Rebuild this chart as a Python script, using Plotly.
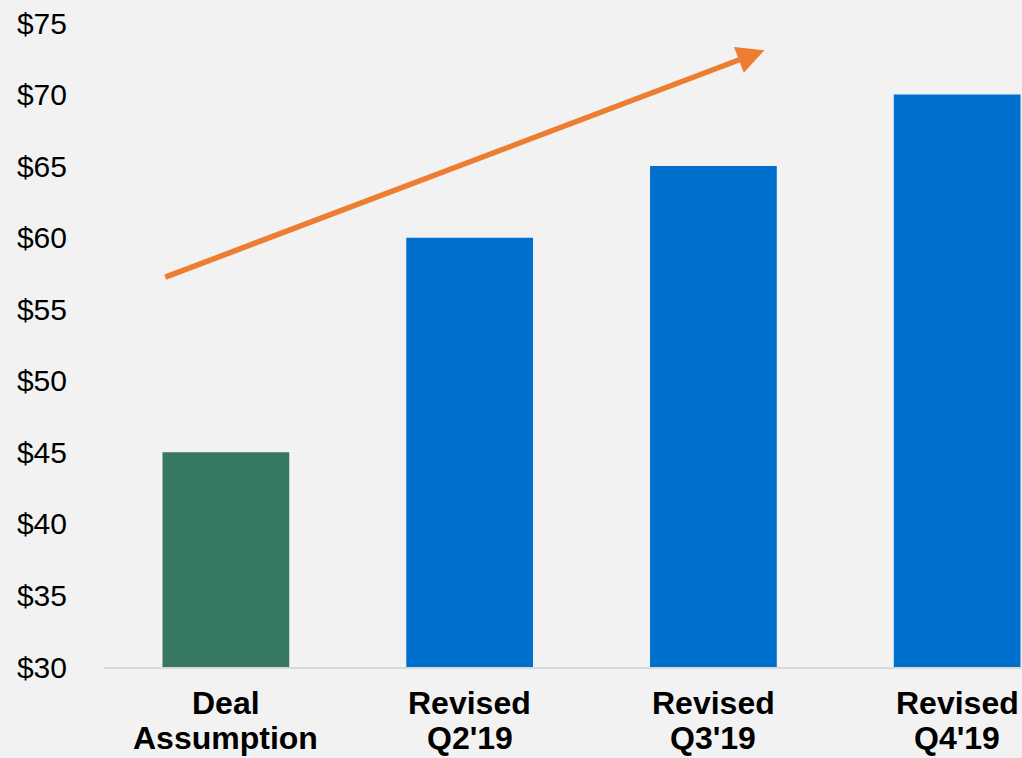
import plotly.graph_objects as go

categories = ["Deal<br>Assumption", "Revised<br>Q2'19", "Revised<br>Q3'19", "Revised<br>Q4'19"]
values = [45, 60, 65, 70]
bar_colors = ["#377862", "#0070CE", "#0070CE", "#0070CE"]
tick_vals = [30, 35, 40, 45, 50, 55, 60, 65, 70, 75]
tick_text = ["$30", "$35", "$40", "$45", "$50", "$55", "$60", "$65", "$70", "$75"]
trend_start = (-0.255, 57.2)
trend_end = (2.21, 73.1)

x_idx = list(range(len(categories)))

fig = go.Figure()
fig.add_trace(go.Bar(x=x_idx, y=values, marker=dict(color=bar_colors, line=dict(width=0)),
                     width=0.52, base=0, showlegend=False, hoverinfo="skip"))

fig.add_annotation(x=trend_end[0], y=trend_end[1], ax=trend_start[0], ay=trend_start[1],
                   xref="x", yref="y", axref="x", ayref="y", text="", showarrow=True,
                   arrowhead=2, arrowsize=1.0, arrowwidth=5.5, arrowcolor="#ED7D31", standoff=0)

# category labels, one annotation per line (tighter line spacing than tick labels allow)
for i, cat in enumerate(categories):
    for j, line in enumerate(cat.split("<br>")):
        fig.add_annotation(x=i, y=0, xref="x", yref="paper", text="<b>" + line + "</b>",
                           showarrow=False, xanchor="center", yanchor="top",
                           yshift=-16 - 35 * j, font=dict(size=32, color="#000000"))

fig.update_layout(
    width=1022, height=758,
    margin=dict(l=104, r=0, t=23, b=91, autoexpand=False),
    paper_bgcolor="#F2F2F2", plot_bgcolor="#F2F2F2",
    font=dict(family="Liberation Sans, Arial, sans-serif", color="#000000"),
    bargap=0.48,
)
fig.update_xaxes(tickmode="array", tickvals=x_idx, showticklabels=False,
                 range=[-0.5, 3.266], showgrid=False, zeroline=False, showline=True,
                 linecolor="#D9D9D9", linewidth=2, ticks="", fixedrange=True, automargin=False)
fig.update_yaxes(range=[30, 75], tickmode="array", tickvals=tick_vals, ticktext=tick_text,
                 showgrid=False, zeroline=False, showline=False, ticks="",
                 tickfont=dict(size=30), ticklabelstandoff=36, fixedrange=True, automargin=False)

fig.write_html("out.html", config=dict(displayModeBar=False))
